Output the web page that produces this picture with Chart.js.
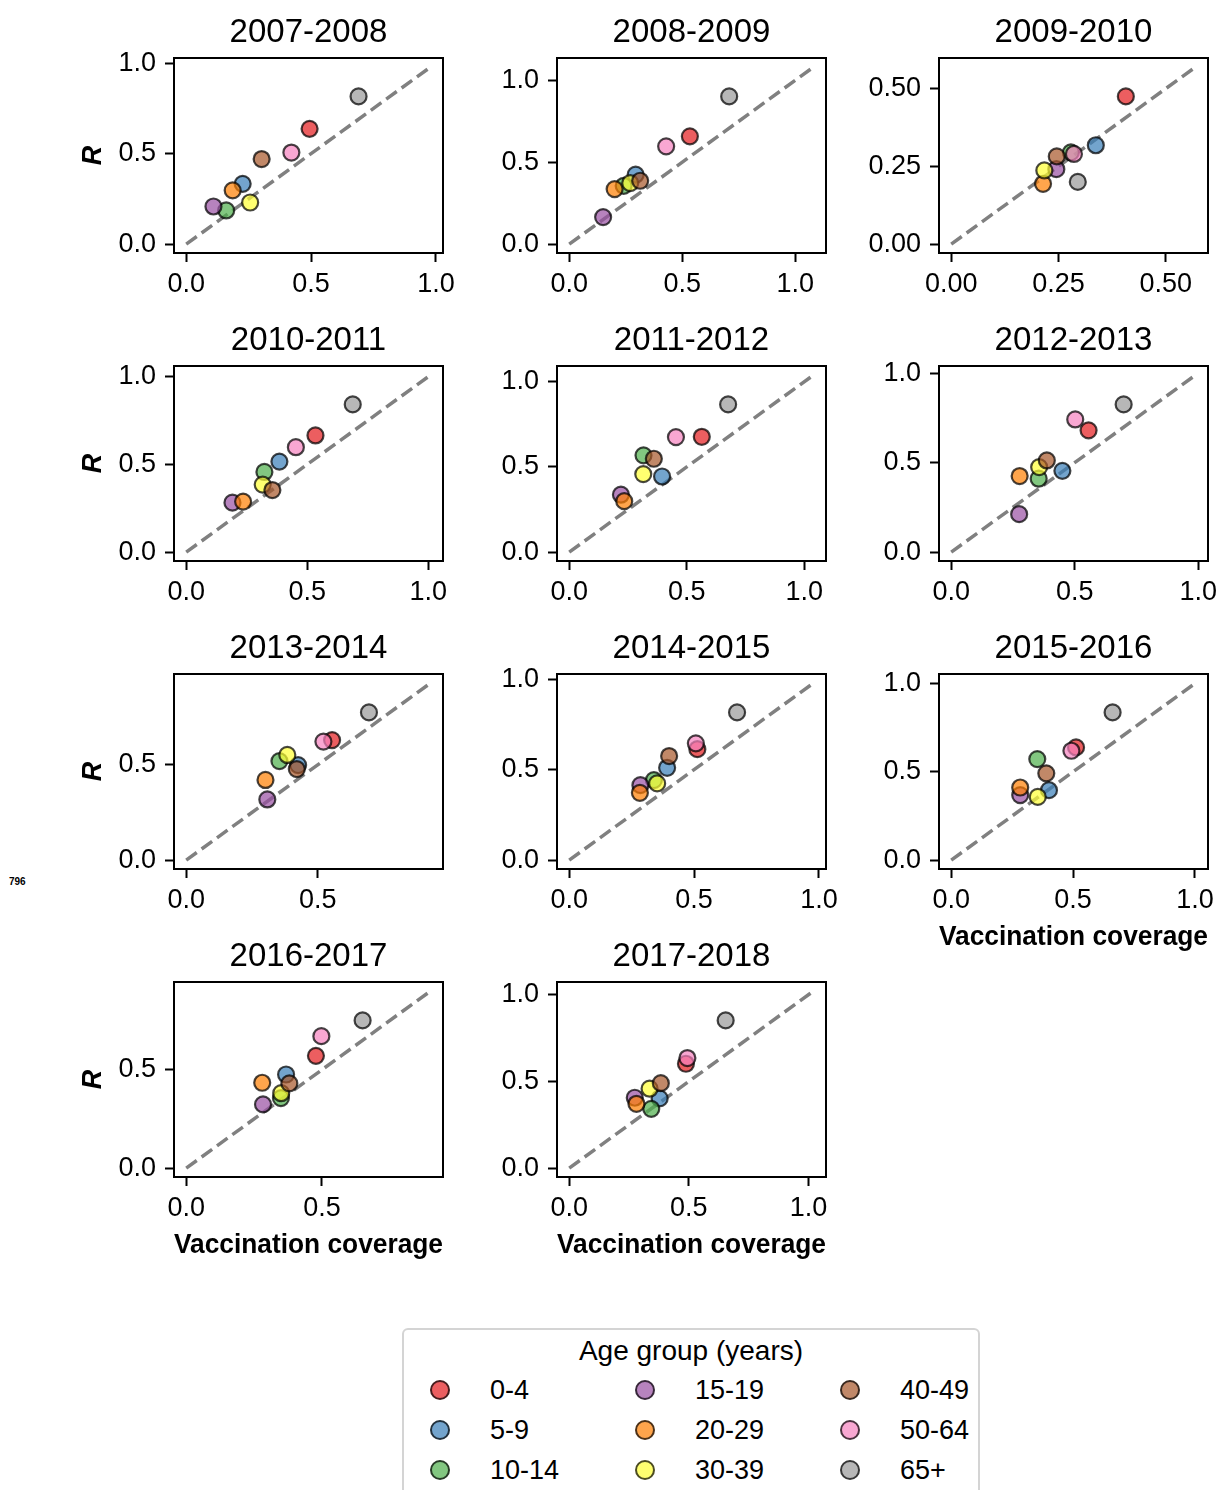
<!DOCTYPE html>
<html>
<head>
<meta charset="utf-8">
<script src="https://cdn.jsdelivr.net/npm/chart.js@4.4.1/dist/chart.umd.min.js"></script>
<style>
	body { margin: 0; background: #fff; width: 1218px; height: 1490px; overflow: hidden; position: relative; font-family: "Liberation Sans", Arial, sans-serif; color: #000; }
	canvas { position: absolute; }
	#leyenda { position: absolute; left: 402px; top: 1328px; width: 574px; height: 200px; border: 2px solid #d4d4d4; border-radius: 6px; box-sizing: content-box; }
	#leyenda .titulo { position: absolute; left: 0; width: 100%; top: 5px; text-align: center; font-size: 28px; line-height: 32px; }
	#leyenda .marca { position: absolute; width: 16px; height: 16px; border-radius: 50%; border: 2px solid rgba(0,0,0,0.7); }
	#leyenda .texto { position: absolute; font-size: 27px; line-height: 32px; }
	#nota { position: absolute; left: 9px; top: 876px; font-size: 10px; font-weight: bold; }
</style>
</head>
<body>
<div id="nota">796</div>
<div id="leyenda"><div class="titulo">Age group (years)</div></div>
<script>
//Datos
const temporadas = ['2007-2008', '2008-2009', '2009-2010', '2010-2011', '2011-2012', '2012-2013',
	'2013-2014', '2014-2015', '2015-2016', '2016-2017', '2017-2018'];
const gruposEdad = ['0-4', '5-9', '10-14', '15-19', '20-29', '30-39', '40-49', '50-64', '65+'];

// cobertura de vacunacion por temporada, mismo orden que gruposEdad
const cobertura = [
	[0.494, 0.226, 0.160, 0.109, 0.186, 0.256, 0.302, 0.421, 0.690],
	[0.534, 0.294, 0.241, 0.150, 0.201, 0.270, 0.314, 0.429, 0.708],
	[0.407, 0.337, 0.279, 0.245, 0.214, 0.217, 0.246, 0.286, 0.295],
	[0.534, 0.385, 0.323, 0.191, 0.235, 0.316, 0.356, 0.453, 0.688],
	[0.564, 0.395, 0.316, 0.220, 0.234, 0.315, 0.360, 0.454, 0.676],
	[0.556, 0.450, 0.354, 0.275, 0.277, 0.356, 0.387, 0.502, 0.698],
	[0.554, 0.425, 0.354, 0.308, 0.301, 0.384, 0.420, 0.521, 0.694],
	[0.513, 0.392, 0.339, 0.285, 0.283, 0.352, 0.400, 0.507, 0.672],
	[0.512, 0.401, 0.353, 0.283, 0.283, 0.355, 0.390, 0.493, 0.662],
	[0.478, 0.368, 0.349, 0.283, 0.280, 0.350, 0.380, 0.498, 0.650],
	[0.488, 0.378, 0.343, 0.274, 0.281, 0.336, 0.383, 0.494, 0.654]
];

// R por temporada
const valoresR = [
	[0.637, 0.333, 0.186, 0.208, 0.297, 0.230, 0.470, 0.506, 0.816],
	[0.658, 0.424, 0.356, 0.165, 0.336, 0.373, 0.387, 0.597, 0.902],
	[0.475, 0.318, 0.295, 0.241, 0.194, 0.237, 0.282, 0.290, 0.200],
	[0.665, 0.516, 0.457, 0.282, 0.288, 0.385, 0.354, 0.598, 0.842],
	[0.677, 0.444, 0.568, 0.337, 0.299, 0.458, 0.548, 0.675, 0.867],
	[0.680, 0.454, 0.410, 0.212, 0.425, 0.475, 0.512, 0.741, 0.825],
	[0.629, 0.498, 0.519, 0.318, 0.420, 0.551, 0.477, 0.621, 0.774],
	[0.613, 0.510, 0.442, 0.414, 0.372, 0.424, 0.575, 0.645, 0.816],
	[0.638, 0.396, 0.572, 0.368, 0.411, 0.358, 0.491, 0.619, 0.836],
	[0.571, 0.476, 0.356, 0.324, 0.434, 0.381, 0.431, 0.671, 0.751],
	[0.602, 0.402, 0.342, 0.406, 0.371, 0.458, 0.490, 0.635, 0.852]
];

// marcas de los ejes
const marcasGeneral = [0, 0.5, 1.0];
const etiquetasGeneral = ['0.0', '0.5', '1.0'];
const marcasFinas = [0, 0.25, 0.5];
const etiquetasFinas = ['0.00', '0.25', '0.50'];

//Estilo
const coloresSet1 = [
	"rgba(228,26,28,0.7)", "rgba(55,126,184,0.7)", "rgba(77,175,74,0.7)",
	"rgba(152,78,163,0.7)", "rgba(255,127,0,0.7)", "rgba(255,255,51,0.7)",
	"rgba(166,86,40,0.7)", "rgba(247,129,191,0.7)", "rgba(153,153,153,0.7)"
];
const borde = "rgba(0,0,0,0.72)";
const familia = "'Liberation Sans', Arial, sans-serif";
Chart.defaults.font.family = familia;
Chart.defaults.color = '#000';

// cajas de los ejes
const columnas = [174, 557, 939];
const filas = [58, 366, 674, 982];
const anchoCaja = 269, altoCaja = 195;
const M_IZQ = 114, M_DER = 24, M_SUP = 50, M_INF = 90;

// marco completo alrededor del area del grafico
const marco = {
	id: 'marco',
	afterDraw(chart) {
		const { ctx, chartArea: a } = chart;
		ctx.save();
		ctx.strokeStyle = '#000';
		ctx.lineWidth = 2;
		ctx.strokeRect(a.left, a.top, a.right - a.left, a.bottom - a.top);
		ctx.restore();
	}
};

//Paneles
temporadas.forEach((temporada, i) => {
	const col = i % 3;
	const fila = Math.floor(i / 3);
	const izquierda = col === 0;
	const abajo = i >= temporadas.length - 3;

	const lim = 1.2 * Math.max(...valoresR[i], ...cobertura[i]);
	const finas = lim < 0.75;
	const marcas = finas ? marcasFinas : marcasGeneral;
	const etiquetas = finas ? etiquetasFinas : etiquetasGeneral;

	const canvas = document.createElement('canvas');
	canvas.width = M_IZQ + anchoCaja + M_DER;
	canvas.height = M_SUP + altoCaja + M_INF;
	canvas.style.left = (columnas[col] - M_IZQ) + 'px';
	canvas.style.top = (filas[fila] - M_SUP) + 'px';
	document.body.appendChild(canvas);

	const ejeComun = {
		type: 'linear',
		min: -0.05 * lim,
		max: 1.05 * lim,
		afterBuildTicks: eje => {
			eje.ticks = marcas.filter(v => v <= eje.max).map(v => ({ value: v }));
		},
		ticks: {
			font: { size: 27 },
			color: '#000',
			autoSkip: false,
			maxRotation: 0,
			callback: v => etiquetas[marcas.indexOf(v)]
		},
		grid: { drawOnChartArea: false, tickLength: 9, tickWidth: 2, tickColor: '#000' },
		border: { display: true, color: '#000', width: 2 }
	};

	const puntos = gruposEdad.map((grupo, k) => ({
		label: grupo,
		data: [{ x: cobertura[i][k], y: valoresR[i][k] }],
		pointBackgroundColor: coloresSet1[k],
		pointBorderColor: borde,
		backgroundColor: coloresSet1[k],
		borderColor: borde,
		pointRadius: 8,
		pointBorderWidth: 2.2,
		order: gruposEdad.length - k
	}));

	new Chart(canvas, {
		type: 'scatter',
		data: {
			datasets: [
				{
					type: 'line',
					data: [{ x: 0, y: 0 }, { x: lim, y: lim }],
					borderColor: '#808080',
					borderWidth: 3.5,
					borderDash: [13, 6],
					pointRadius: 0,
					fill: false,
					order: 50
				},
				...puntos
			]
		},
		options: {
			responsive: false,
			animation: false,
			events: [],
			layout: { padding: { right: M_DER } },
			plugins: {
				legend: { display: false },
				tooltip: { enabled: false },
				title: {
					display: true,
					text: temporada,
					color: '#000',
					font: { size: 33, weight: 'normal' },
					padding: { top: 5, bottom: 5.4 },
					fullSize: false
				}
			},
			scales: {
				x: {
					...ejeComun,
					afterFit: eje => { eje.height = M_INF; },
					ticks: { ...ejeComun.ticks, padding: 6 },
					title: {
						display: abajo,
						text: 'Vaccination coverage',
						color: '#000',
						font: { size: 28.5, weight: 'bold' },
						padding: { bottom: 5 }
					}
				},
				y: {
					...ejeComun,
					afterFit: eje => { eje.width = M_IZQ; },
					ticks: { ...ejeComun.ticks, padding: 9 },
					title: {
						display: izquierda,
						text: 'R',
						color: '#000',
						font: { size: 27, weight: 'bold', style: 'italic' },
						padding: { top: 17 }
					}
				}
			}
		},
		plugins: [marco]
	});
});

//Leyenda
const leyenda = document.getElementById('leyenda');
gruposEdad.forEach((grupo, k) => {
	const c = Math.floor(k / 3);
	const f = k % 3;
	const marca = document.createElement('span');
	marca.className = 'marca';
	marca.style.background = coloresSet1[k];
	marca.style.left = (36 + c * 205 - 10) + 'px';
	marca.style.top = (60 + f * 40 - 10) + 'px';
	leyenda.appendChild(marca);

	const texto = document.createElement('span');
	texto.className = 'texto';
	texto.textContent = grupo;
	texto.style.left = (86 + c * 205) + 'px';
	texto.style.top = (60 + f * 40 - 16) + 'px';
	leyenda.appendChild(texto);
});
</script>
</body>
</html>
